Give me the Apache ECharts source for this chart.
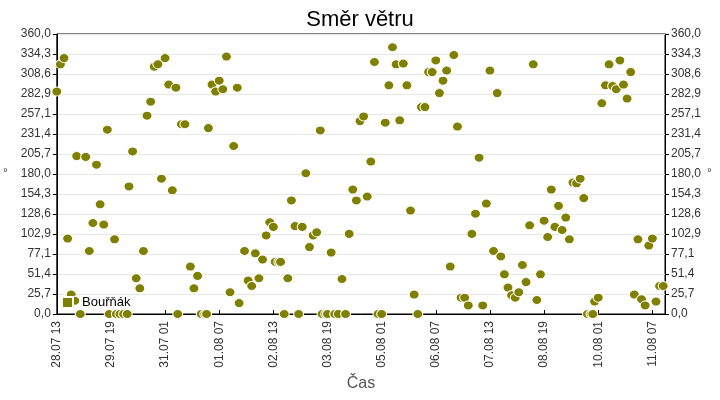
<!DOCTYPE html>
<html>
<head>
<meta charset="utf-8">
<script src="https://cdn.jsdelivr.net/npm/echarts@6/dist/echarts.min.js"></script>
<style>
  html, body { margin: 0; padding: 0; background: #fff; }
  #chart { width: 720px; height: 400px; }
</style>
</head>
<body>
<div id="chart"></div>
<script>
// měření - čas (DD.MM HH) a směr větru ve stupních
var times = [
  '28.07 13','28.07 15','28.07 17','28.07 19','28.07 21','28.07 23',
  '29.07 00','29.07 02','29.07 05','29.07 07','29.07 09','29.07 11','29.07 13','29.07 15','29.07 17','29.07 18','29.07 21','29.07 22',
  '30.07 00','30.07 02','30.07 04','30.07 05','30.07 07','30.07 09','30.07 11','30.07 13','30.07 15','30.07 17','30.07 19','30.07 21','30.07 23',
  '31.07 01','31.07 03','31.07 05','31.07 07','31.07 08','31.07 10','31.07 12','31.07 15','31.07 17','31.07 19','31.07 21','31.07 23',
  '01.08 00','01.08 01','01.08 03','01.08 05','01.08 07','01.08 09','01.08 11','01.08 13','01.08 15','01.08 17','01.08 18','01.08 21','01.08 23',
  '02.08 01','02.08 03','02.08 05','02.08 07','02.08 09','02.08 11','02.08 13','02.08 14','02.08 16','02.08 17','02.08 19','02.08 21','02.08 23',
  '03.08 01','03.08 03','03.08 05','03.08 07','03.08 09','03.08 11','03.08 13','03.08 15','03.08 16','03.08 18','03.08 19','03.08 21','03.08 23',
  '04.08 01','04.08 03','04.08 05','04.08 07','04.08 09','04.08 11','04.08 13','04.08 15','04.08 17','04.08 19','04.08 21','04.08 23',
  '05.08 01','05.08 03','05.08 05','05.08 07','05.08 09','05.08 11','05.08 13','05.08 15','05.08 17','05.08 19','05.08 21','05.08 23',
  '06.08 01','06.08 03','06.08 05','06.08 07','06.08 09','06.08 11','06.08 13','06.08 15','06.08 17','06.08 19','06.08 21','06.08 23',
  '07.08 01','07.08 03','07.08 05','07.08 07','07.08 09','07.08 11','07.08 13','07.08 15','07.08 17','07.08 19','07.08 21','07.08 23',
  '08.08 01','08.08 03','08.08 05','08.08 07','08.08 09','08.08 11','08.08 13','08.08 15','08.08 17','08.08 19','08.08 21','08.08 23',
  '09.08 01','09.08 03','09.08 05','09.08 07','09.08 09','09.08 11','09.08 13','09.08 15','09.08 17','09.08 19','09.08 21','09.08 22','09.08 23',
  '10.08 01','10.08 03','10.08 05','10.08 07','10.08 09','10.08 11','10.08 13','10.08 15','10.08 17','10.08 19','10.08 21','10.08 23',
  '11.08 01','11.08 03','11.08 05','11.08 07','11.08 09','11.08 11','11.08 13'
];
var smer = [
  286, 321, 329, 97, 25, 17,
  203, 0, 202, 81, 117, 192, 141, 115, 237, 0, 96, 0,
  0, 0, 0, 164, 209, 46, 33, 81, 255, 273, 318, 321, 174,
  329, 295, 159, 291, 0, 244, 244, 61, 33, 49, 0, 0,
  0, 239, 295, 286, 300, 289, 331, 28, 216, 291, 14, 81, 43,
  36, 78, 46, 70, 101, 118, 112, 67, 67, 67, 0, 46, 146,
  113, 0, 112, 181, 86, 101, 105, 236, 0, 0, 0, 79, 0,
  0, 45, 0, 103, 160, 146, 248, 254, 151, 196, 324, 0,
  0, 246, 294, 343, 321, 249, 322, 294, 133, 25, 0, 266,
  266, 311, 311, 326, 284, 300, 313, 61, 333, 241, 21, 21,
  11, 103, 129, 201, 11, 142, 313, 81, 284, 74, 51, 34,
  24, 21, 28, 63, 41, 114, 321, 18, 51, 120, 99, 160,
  112, 139, 108, 124, 96, 169, 168, 174, 149, 0, 0, 0, 16,
  21, 271, 294, 321, 293, 289, 326, 295, 277, 311, 25, 96,
  19, 11, 88, 97, 16, 36, 36
];
var start = '28.07 13';
var end = '11.08 14';
var tickHours = 30;
var yTicks = 14;

function toMs(s) {
  var d = s.split(' ')[0].split('.');
  var h = +s.split(' ')[1];
  return Date.UTC(2013, +d[1] - 1, +d[0], h);
}
var t0 = toMs(start);
function hrs(s) { return (toMs(s) - t0) / 3600000; }
function pad(n) { return (n < 10 ? '0' : '') + n; }

var data = [];
for (var i = 0; i < times.length; i++) {
  data.push([hrs(times[i]), smer[i]]);
}

var myChart = echarts.init(document.getElementById('chart'));

var yAxisBase = {
  type: 'value',
  min: 0,
  max: 360,
  interval: 360 / yTicks,
  name: '°',
  nameLocation: 'middle',
  nameRotate: 0,
  nameTextStyle: { color: '#333', fontSize: 12 },
  axisLine: { show: true, lineStyle: { color: '#000' } },
  axisTick: { show: true, length: 4, lineStyle: { color: '#000' } },
  axisLabel: {
    color: '#333',
    fontSize: 12,
    margin: 6,
    formatter: function(v) { return v.toFixed(1).replace('.', ','); }
  }
};

var option = {
  animation: false,
  textStyle: { fontFamily: 'Liberation Sans, Arial, sans-serif' },
  title: {
    text: 'Směr větru',
    left: 'center',
    top: 4,
    textStyle: { fontSize: 22, fontWeight: 'normal', color: '#000' }
  },
  legend: {
    data: ['Bouřňák'],
    left: 56,
    top: 291,
    itemWidth: 11,
    itemHeight: 11,
    icon: 'rect',
    textStyle: { color: '#000', fontSize: 13, padding: [0, 0, 0, 4] }
  },
  grid: {
    left: 55,
    right: 55,
    top: 34,
    bottom: 86,
    show: true,
    borderColor: '#000',
    borderWidth: 1
  },
  xAxis: {
    type: 'value',
    min: 0,
    max: hrs(end),
    interval: tickHours,
    name: 'Čas',
    nameLocation: 'middle',
    nameGap: 62,
    nameTextStyle: { color: '#555', fontSize: 16 },
    splitLine: { show: false },
    axisLine: { lineStyle: { color: '#000' } },
    axisTick: { inside: true, length: 4, lineStyle: { color: '#000' } },
    axisLabel: {
      rotate: 90,
      color: '#333',
      fontSize: 12,
      margin: 7,
      showMaxLabel: false,
      formatter: function(v) {
        var d = new Date(t0 + v * 3600000);
        return pad(d.getUTCDate()) + '.' + pad(d.getUTCMonth() + 1) + ' ' + pad(d.getUTCHours());
      }
    }
  },
  yAxis: [
    Object.assign({}, yAxisBase, {
      position: 'left',
      nameGap: 49,
      splitLine: { show: true, lineStyle: { color: '#e8e8e8' } }
    }),
    Object.assign({}, yAxisBase, {
      position: 'right',
      nameGap: 38,
      splitLine: { show: false }
    })
  ],
  series: [
    {
      name: 'Bouřňák',
      type: 'scatter',
      symbol: 'circle',
      symbolSize: [10, 9],
      clip: false,
      itemStyle: {
        color: '#808000',
        borderColor: '#fff',
        borderWidth: 1,
        opacity: 1
      },
      data: data
    }
  ]
};
myChart.setOption(option);
</script>
</body>
</html>
